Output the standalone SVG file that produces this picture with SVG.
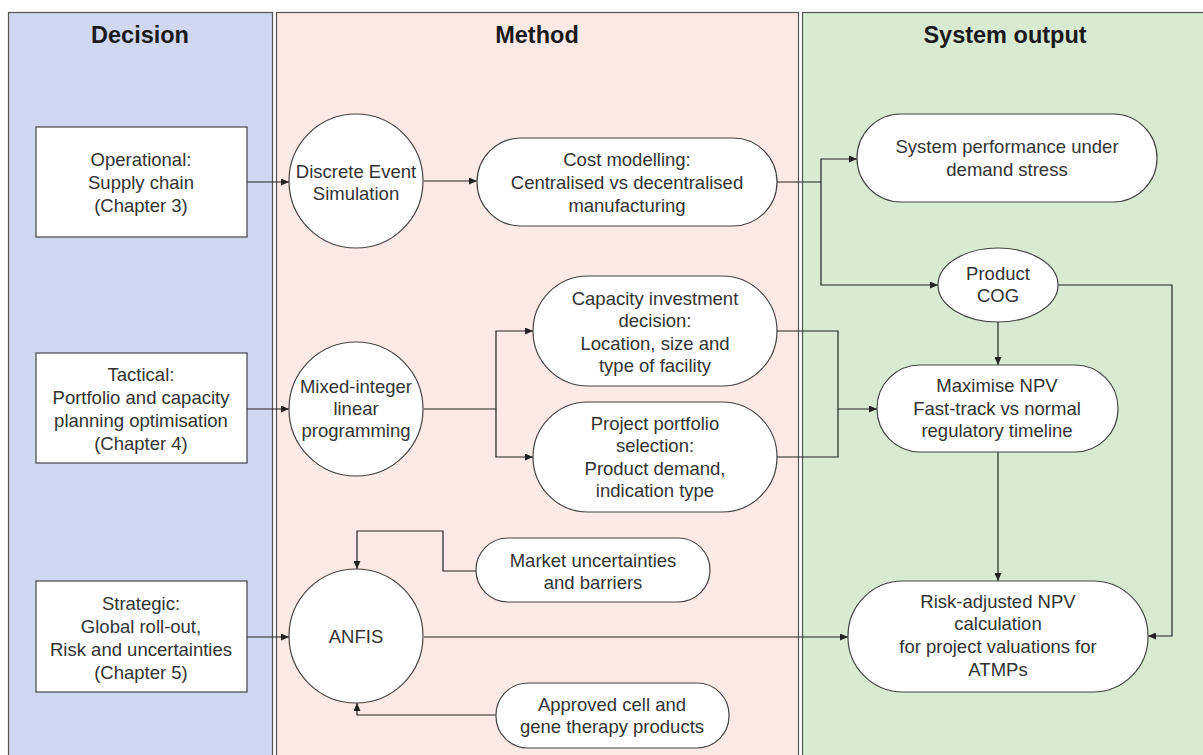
<svg xmlns="http://www.w3.org/2000/svg" width="1203" height="755" viewBox="0 0 1203 755">
<defs>
<style>
.lane{stroke:#555;stroke-width:1.2}
.node{fill:#fff;stroke:#444;stroke-width:1.2}
.t{font-family:"Liberation Sans",Arial,sans-serif;font-size:18.5px;fill:#333;text-anchor:middle}
.h{font-family:"Liberation Sans",Arial,sans-serif;font-size:23.5px;font-weight:bold;fill:#1a1a1a;text-anchor:middle}
.c{fill:none;stroke:#222;stroke-width:1.2}
</style>
<marker id="arr" viewBox="0 0 8 7" refX="8" refY="3.5" markerWidth="8" markerHeight="7" markerUnits="userSpaceOnUse" orient="auto">
<path d="M0,0 L8,3.5 L0,7 z" fill="#222"/>
</marker>
</defs>
<rect width="1203" height="755" fill="#fff"/>
<g id="lanes">
<rect class="lane" x="8.5" y="12.5" width="264" height="760" fill="#cfd8f0"/>
<rect class="lane" x="276.5" y="12.5" width="522" height="760" fill="#fde9e5"/>
<rect class="lane" x="802.5" y="12.5" width="410" height="760" fill="#d9ead3"/>
<text class="h" x="140" y="43">Decision</text>
<text class="h" x="537" y="43">Method</text>
<text class="h" x="1005" y="43">System output</text>
</g>
<g id="connectors">
<path class="c" marker-end="url(#arr)" d="M247,182 H289"/>
<path class="c" marker-end="url(#arr)" d="M247,409 H289"/>
<path class="c" marker-end="url(#arr)" d="M247,637 H289"/>
<path class="c" marker-end="url(#arr)" d="M424,181 H477"/>
<path class="c" marker-end="url(#arr)" d="M424,409 H496 V331 H533"/>
<path class="c" marker-end="url(#arr)" d="M496,409 V457 H533"/>
<path class="c" marker-end="url(#arr)" d="M777,182 H821 V159 H857"/>
<path class="c" marker-end="url(#arr)" d="M821,182 V285 H938"/>
<path class="c" marker-end="url(#arr)" d="M777,331 H838 V409 H877"/>
<path class="c" d="M777,457 H838 V409"/>
<path class="c" marker-end="url(#arr)" d="M998,322 V365"/>
<path class="c" marker-end="url(#arr)" d="M998,452 V581"/>
<path class="c" marker-end="url(#arr)" d="M1058,285 H1172 V636 H1148"/>
<path class="c" marker-end="url(#arr)" d="M424,637 H848"/>
<path class="c" marker-end="url(#arr)" d="M476,571 H443 V531 H357 V569"/>
<path class="c" marker-end="url(#arr)" d="M496,715 H357 V703"/>
</g>
<g id="operational">
<rect class="node" x="36" y="127" width="211" height="110"/>
<text class="t" x="141" y="166">Operational:</text>
<text class="t" x="141" y="189">Supply chain</text>
<text class="t" x="141" y="212">(Chapter 3)</text>
</g>
<g id="tactical">
<rect class="node" x="36" y="353" width="211" height="110"/>
<text class="t" x="141" y="381">Tactical:</text>
<text class="t" x="141" y="404">Portfolio and capacity</text>
<text class="t" x="141" y="427">planning optimisation</text>
<text class="t" x="141" y="450">(Chapter 4)</text>
</g>
<g id="strategic">
<rect class="node" x="36" y="581" width="211" height="111"/>
<text class="t" x="141" y="610">Strategic:</text>
<text class="t" x="141" y="633">Global roll-out,</text>
<text class="t" x="141" y="656">Risk and uncertainties</text>
<text class="t" x="141" y="679">(Chapter 5)</text>
</g>
<g id="des">
<circle class="node" cx="356" cy="181" r="67"/>
<text class="t" x="356" y="178">Discrete Event</text>
<text class="t" x="356" y="200">Simulation</text>
</g>
<g id="milp">
<circle class="node" cx="356" cy="409" r="67"/>
<text class="t" x="356" y="393">Mixed-integer</text>
<text class="t" x="356" y="415">linear</text>
<text class="t" x="356" y="437">programming</text>
</g>
<g id="anfis">
<circle class="node" cx="356" cy="636" r="67"/>
<text class="t" x="356" y="643">ANFIS</text>
</g>
<g id="cost">
<rect class="node" x="477" y="138" width="300" height="88" rx="44"/>
<text class="t" x="627" y="166">Cost modelling:</text>
<text class="t" x="627" y="189">Centralised vs decentralised</text>
<text class="t" x="627" y="212">manufacturing</text>
</g>
<g id="capacity">
<rect class="node" x="533" y="276" width="244" height="110" rx="55"/>
<text class="t" x="655" y="305">Capacity investment</text>
<text class="t" x="655" y="327">decision:</text>
<text class="t" x="655" y="350">Location, size and</text>
<text class="t" x="655" y="372">type of facility</text>
</g>
<g id="project">
<rect class="node" x="533" y="402" width="244" height="110" rx="55"/>
<text class="t" x="655" y="430">Project portfolio</text>
<text class="t" x="655" y="452">selection:</text>
<text class="t" x="655" y="475">Product demand,</text>
<text class="t" x="655" y="497">indication type</text>
</g>
<g id="market">
<rect class="node" x="476" y="538" width="234" height="64" rx="32"/>
<text class="t" x="593" y="567">Market uncertainties</text>
<text class="t" x="593" y="589">and barriers</text>
</g>
<g id="approved">
<rect class="node" x="496" y="683" width="233" height="65" rx="32"/>
<text class="t" x="612" y="711">Approved cell and</text>
<text class="t" x="612" y="733">gene therapy products</text>
</g>
<g id="sysperf">
<rect class="node" x="857" y="114" width="300" height="88" rx="44"/>
<text class="t" x="1007" y="153">System performance under</text>
<text class="t" x="1007" y="176">demand stress</text>
</g>
<g id="cog">
<ellipse class="node" cx="998" cy="285" rx="60" ry="37"/>
<text class="t" x="998" y="280">Product</text>
<text class="t" x="998" y="302">COG</text>
</g>
<g id="maximise">
<rect class="node" x="877" y="365" width="241" height="87" rx="43"/>
<text class="t" x="997" y="392">Maximise NPV</text>
<text class="t" x="997" y="415">Fast-track vs normal</text>
<text class="t" x="997" y="437">regulatory timeline</text>
</g>
<g id="risk">
<rect class="node" x="848" y="581" width="300" height="111" rx="55"/>
<text class="t" x="998" y="608">Risk-adjusted NPV</text>
<text class="t" x="998" y="630">calculation</text>
<text class="t" x="998" y="653">for project valuations for</text>
<text class="t" x="998" y="676">ATMPs</text>
</g>
</svg>
